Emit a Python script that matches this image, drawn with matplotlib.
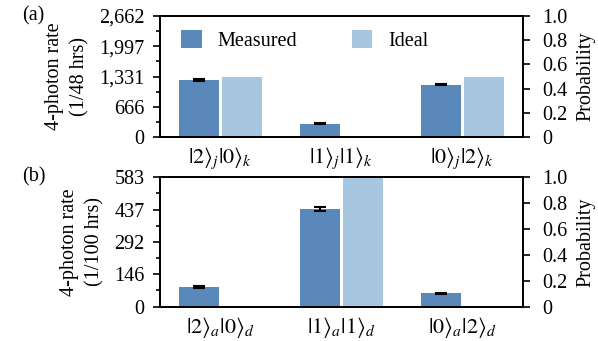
import matplotlib
matplotlib.use("Agg")
import matplotlib.pyplot as plt
import numpy as np

plt.rcParams['font.family'] = ['Liberation Serif', 'DejaVu Serif']
plt.rcParams['mathtext.fontset'] = 'stix'

# Panel (a)
cats_a = [r'$|2\rangle_j|0\rangle_k$', r'$|1\rangle_j|1\rangle_k$', r'$|0\rangle_j|2\rangle_k$']
meas_a = [1255, 295, 1155]
err_a = [15, 12, 15]
ideal_a = [1331, 0, 1331]
ticks_a = [0, 666, 1331, 1997, 2662]
ticklabels_a = ['0', '666', '1,331', '1,997', '2,662']

# Panel (b)
cats_b = [r'$|2\rangle_a|0\rangle_d$', r'$|1\rangle_a|1\rangle_d$', r'$|0\rangle_a|2\rangle_d$']
meas_b = [89, 440, 61]
err_b = [3, 10, 2]
ideal_b = [0, 583, 0]
ticks_b = [0, 146, 292, 437, 583]
ticklabels_b = ['0', '146', '292', '437', '583']

prob_ticks = [0, 0.2, 0.4, 0.6, 0.8, 1.0]
prob_labels = ['0', '0.2', '0.4', '0.6', '0.8', '1.0']

c_meas = '#5b88ba'
c_ideal = '#a7c7e1'

fig = plt.figure(figsize=(5.98, 3.41), dpi=100)

def panel(rect, cats, meas, err, ideal, ticks, ticklabels, ylabel, tag, legend):
    ax = fig.add_axes(rect)
    x = np.arange(len(cats))
    w = 0.33
    ax.bar(x - 0.175, meas, w, color=c_meas, label='Measured', zorder=2)
    ax.bar(x + 0.175, ideal, w, color=c_ideal, label='Ideal', zorder=2)
    ax.errorbar(x - 0.175, meas, yerr=err, fmt='none', ecolor='black',
                elinewidth=1.5, capsize=4, capthick=1.5, zorder=3)
    ax.set_xlim(-0.5, 2.5)
    ax.set_ylim(0, ticks[-1])
    ax.set_yticks(ticks)
    ax.set_yticklabels(ticklabels)
    ax.set_yticks([(ticks[i] + ticks[i + 1]) / 2 for i in range(len(ticks) - 1)], minor=True)
    ax.set_xticks(x)
    ax.set_xticklabels(cats, fontsize=16)
    ax.tick_params(axis='x', length=0, pad=6)
    ax.tick_params(axis='y', which='major', length=5, width=1.2, labelsize=14.5,
                   direction='out', pad=6)
    ax.tick_params(axis='y', which='minor', length=3, width=1.2, direction='out')
    for s in ax.spines.values():
        s.set_linewidth(1.3)
    ax.set_ylabel(ylabel, fontsize=14.5, linespacing=1.45, labelpad=7)
    ax2 = ax.twinx()
    ax2.set_ylim(0, 1)
    ax2.set_yticks(prob_ticks)
    ax2.set_yticklabels(prob_labels)
    ax2.set_yticks([0.1, 0.3, 0.5, 0.7, 0.9], minor=True)
    ax2.tick_params(axis='y', which='major', length=5, width=1.2, labelsize=14.5,
                    direction='out', pad=9)
    ax2.tick_params(axis='y', which='minor', length=0)
    ax2.set_ylabel('Probability', fontsize=14.5, labelpad=6)
    for s in ax2.spines.values():
        s.set_linewidth(1.3)
    fig.text(0.037, rect[1] + rect[3], tag, fontsize=14.5, va='center', ha='left')
    if legend:
        ax.legend(loc='upper left', bbox_to_anchor=(0.02, 1.0), ncol=2, frameon=False,
                  fontsize=14.5, handlelength=1.0, handleheight=1.0, columnspacing=2.7,
                  handletextpad=0.8, borderaxespad=0.3)
    return ax

panel([0.2676, 0.598, 0.607, 0.355], cats_a, meas_a, err_a, ideal_a, ticks_a,
      ticklabels_a, '4-photon rate\n(1/48 hrs)', '(a)', True)
panel([0.2676, 0.1006, 0.607, 0.380], cats_b, meas_b, err_b, ideal_b, ticks_b,
      ticklabels_b, '4-photon rate\n(1/100 hrs)', '(b)', False)

fig.savefig('out.png', dpi=100)
